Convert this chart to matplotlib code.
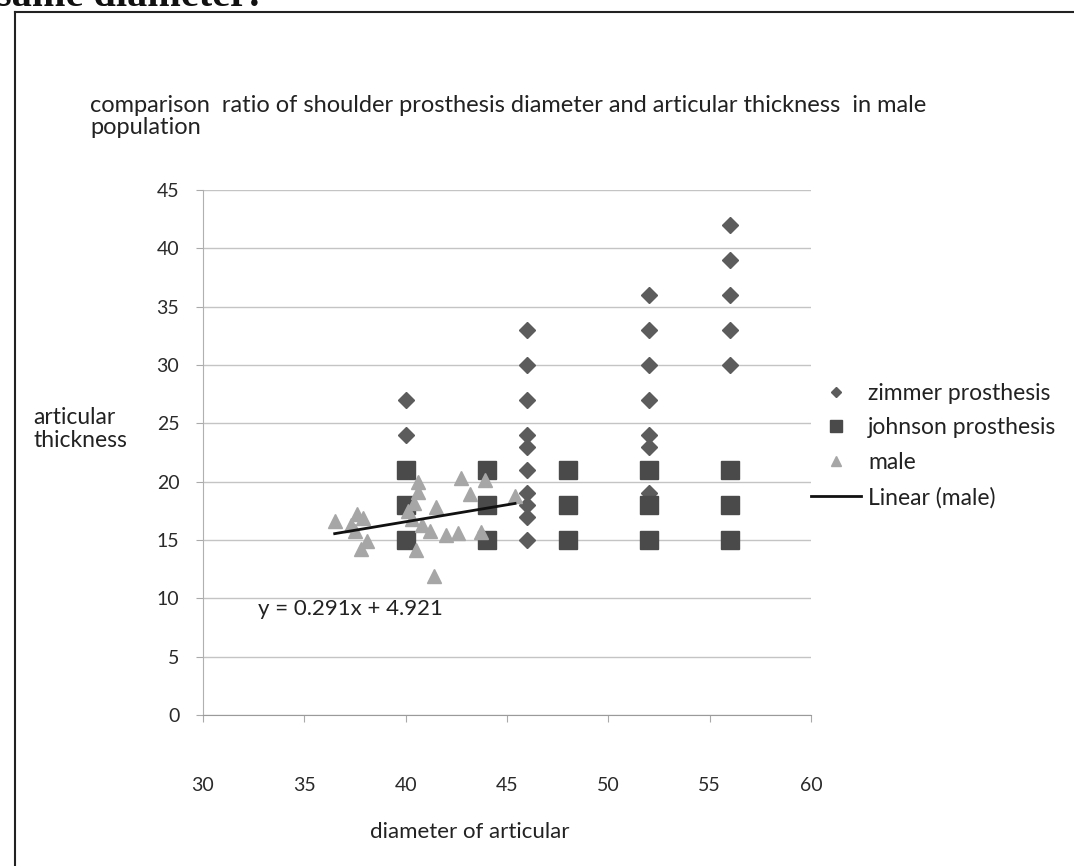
import numpy as np
import matplotlib
matplotlib.use('Agg')
import matplotlib.pyplot as plt
from matplotlib.lines import Line2D

plt.rcParams['font.family'] = ['Lato', 'DejaVu Sans']

# zimmer prosthesis (diameter, thickness)
zimmer_x = [40, 40,
            46, 46, 46, 46, 46, 46, 46, 46, 46, 46,
            52, 52, 52, 52, 52, 52, 52,
            56, 56, 56, 56, 56]
zimmer_y = [27, 24,
            33, 30, 27, 24, 23, 21, 19, 18, 17, 15,
            36, 33, 30, 27, 24, 23, 19,
            42, 39, 36, 33, 30]

# johnson prosthesis
johnson_x = [40, 40, 40, 44, 44, 44, 48, 48, 48, 52, 52, 52, 56, 56, 56]
johnson_y = [21, 18, 15, 21, 18, 15, 21, 18, 15, 21, 18, 15, 21, 18, 15]

# male population measurements
male_x = [36.5, 37.3, 37.6, 37.9, 37.5, 38.1, 37.8, 40.1, 40.4, 40.6, 40.6, 40.3,
          40.8, 41.2, 41.5, 40.5, 41.4, 42.0, 42.6, 42.75, 43.2, 43.9, 43.7, 45.4]
male_y = [16.6, 16.3, 17.2, 16.9, 15.8, 14.9, 14.2, 17.5, 18.2, 19.1, 20.0, 16.8,
          16.3, 15.8, 17.8, 14.1, 11.9, 15.4, 15.6, 20.3, 18.9, 20.1, 15.7, 18.8]

# linear trend reported for male
slope, intercept = 0.291, 4.921

x_ticks = [30, 35, 40, 45, 50, 55, 60]
y_ticks = [0, 5, 10, 15, 20, 25, 30, 35, 40, 45]

fig = plt.figure(figsize=(10.74, 8.66), dpi=100)
ax = fig.add_axes([0.189, 0.1744, 0.566, 0.6062])

ax.plot(zimmer_x, zimmer_y, linestyle='none', marker='D', ms=8,
        color='#5c5c5c', label='zimmer prosthesis', zorder=3)
ax.plot(johnson_x, johnson_y, linestyle='none', marker='s', ms=12.5,
        color='#4a4a4a', label='johnson prosthesis', zorder=4)
ax.plot(male_x, male_y, linestyle='none', marker='^', ms=10,
        color='#a6a6a6', label='male', zorder=5)

tx = np.array([min(male_x), max(male_x)])
ax.plot(tx, slope * tx + intercept, color='#111111', lw=2, label='Linear (male)', zorder=6)
ax.text(32.7, 9.1, 'y = %.3fx + %.3f' % (slope, intercept), fontsize=16,
        color='#222222', va='center', ha='left')

ax.set_xlim(30, 60)
ax.set_ylim(0, 45)
ax.set_xticks(x_ticks)
ax.set_yticks(y_ticks)
ax.tick_params(labelsize=14, colors='#2a2a2a', length=5, width=0.8)
ax.tick_params(axis='y', pad=12, color='#aaaaaa')
ax.tick_params(axis='x', pad=40, color='#aaaaaa')
ax.yaxis.grid(True, color='#c4c4c4', lw=1)
ax.set_axisbelow(True)
for s in ('top', 'right'):
    ax.spines[s].set_visible(False)
ax.spines['left'].set_color('#b0b0b0')
ax.spines['bottom'].set_color('#9a9a9a')

fig.text(0.4376, 0.039, 'diameter of articular', fontsize=16, color='#222222',
         ha='center', va='center')
fig.text(0.031, 0.505, 'articular\nthickness', fontsize=16.5, color='#222222',
         ha='left', va='center', linespacing=1.1)

fig.text(0.084, 0.865, 'comparison  ratio of shoulder prosthesis diameter and articular thickness  in male\npopulation',
         fontsize=17, color='#222222', ha='left', va='center', linespacing=1.05)

leg = ax.legend(loc='upper left', bbox_to_anchor=(1.0, 0.633), frameon=False,
                fontsize=16.5, markerscale=0.65, handlelength=2.2, labelspacing=0.6,
                handletextpad=0.3, borderaxespad=0, borderpad=0)
for t in leg.get_texts():
    t.set_color('#222222')

# page border and the clipped caption from the document
fig.add_artist(Line2D([0.014, 0.014], [-0.05, 0.986], color='#222222', lw=1.5, transform=fig.transFigure))
fig.add_artist(Line2D([0.014, 1.05], [0.986, 0.986], color='#222222', lw=1.5, transform=fig.transFigure))
fig.text(-0.004, 0.993, 'same diameter:', fontsize=29, fontweight='bold',
         family='Liberation Serif', va='baseline', ha='left', color='#111111')

fig.savefig('out.png', dpi=100)
